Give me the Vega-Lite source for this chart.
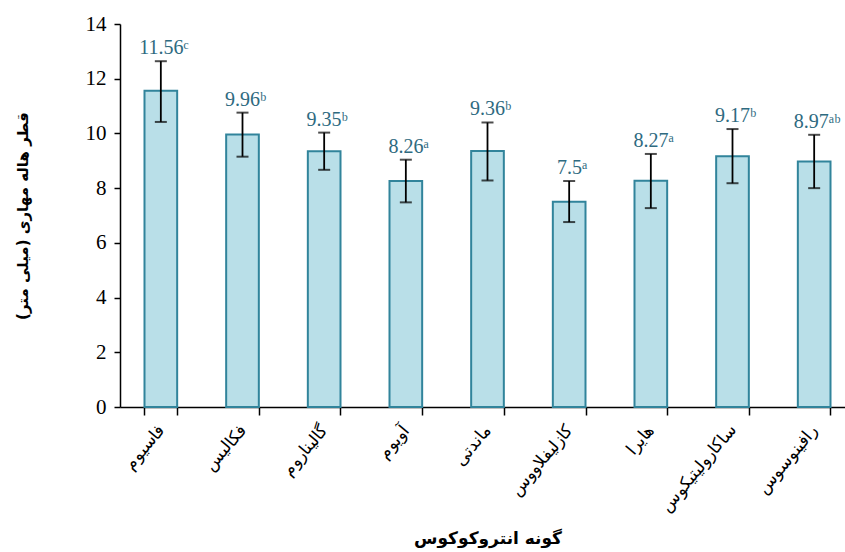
{
  "$schema": "https://vega.github.io/schema/vega-lite/v6.json",
  "autosize": "none",
  "padding": {"left": 120, "top": 24, "right": 0, "bottom": 145},
  "width": 725,
  "height": 383,
  "background": "white",
  "config": {"view": {"stroke": null}, "font": "Liberation Serif"},
  "data": {"values": [
    {"species": "فاسیوم", "value": 11.56, "lo": 10.42, "hi": 12.64, "label": "11.56ᶜ"},
    {"species": "فکالیس", "value": 9.96, "lo": 9.15, "hi": 10.76, "label": "9.96ᵇ"},
    {"species": "گالیناروم", "value": 9.35, "lo": 8.67, "hi": 10.03, "label": "9.35ᵇ"},
    {"species": "آویوم", "value": 8.26, "lo": 7.48, "hi": 9.04, "label": "8.26ᵃ"},
    {"species": "ماندتی", "value": 9.36, "lo": 8.28, "hi": 10.4, "label": "9.36ᵇ"},
    {"species": "کازلیفلاووس", "value": 7.5, "lo": 6.76, "hi": 8.26, "label": "7.5ᵃ"},
    {"species": "هایرا", "value": 8.27, "lo": 7.27, "hi": 9.25, "label": "8.27ᵃ"},
    {"species": "ساکارولیتیکوس", "value": 9.17, "lo": 8.18, "hi": 10.16, "label": "9.17ᵇ"},
    {"species": "رافینوسوس", "value": 8.97, "lo": 8.0, "hi": 9.95, "label": "8.97ᵃᵇ"}
  ]},
  "encoding": {
    "x": {
      "field": "species", "type": "nominal", "sort": null,
      "scale": {"range": [0, 735], "paddingInner": 0.6, "paddingOuter": 0.3},
      "axis": {
        "title": "گونه انتروکوکوس",
        "titleFont": "DejaVu Sans", "titleFontSize": 17, "titleFontWeight": "bold", "titleColor": "black",
        "titlePadding": 16,
        "labelFont": "DejaVu Serif", "labelFontSize": 17, "labelColor": "black",
        "labelAngle": -50, "labelAlign": "right", "labelBaseline": "middle", "labelPadding": 12,
        "tickBand": "extent", "tickSize": 8, "tickColor": "black", "tickWidth": 1.5,
        "domainColor": "black", "domainWidth": 1.5
      }
    }
  },
  "layer": [
    {
      "mark": {"type": "bar", "fill": "#B9DFE8", "stroke": "#31849B", "strokeWidth": 2},
      "encoding": {
        "y": {
          "field": "value", "type": "quantitative",
          "scale": {"domain": [0, 14]},
          "axis": {
            "values": [0, 2, 4, 6, 8, 10, 12, 14],
            "title": "قطر هاله مهاری (میلی متر)",
            "titleFont": "DejaVu Sans", "titleFontSize": 15, "titleFontWeight": "bold", "titleColor": "black",
            "titlePadding": 55,
            "labelFont": "Liberation Serif", "labelFontSize": 21, "labelColor": "black", "labelPadding": 8,
            "grid": false, "tickSize": 6, "tickColor": "black", "tickWidth": 1.5,
            "domainColor": "black", "domainWidth": 1.5
          }
        }
      }
    },
    {
      "mark": {"type": "rule", "color": "black", "strokeWidth": 1.8},
      "encoding": {"y": {"field": "lo", "type": "quantitative"}, "y2": {"field": "hi"}}
    },
    {
      "mark": {"type": "tick", "color": "black", "size": 12, "thickness": 2},
      "encoding": {"y": {"field": "lo", "type": "quantitative"}}
    },
    {
      "mark": {"type": "tick", "color": "black", "size": 12, "thickness": 2},
      "encoding": {"y": {"field": "hi", "type": "quantitative"}}
    },
    {
      "mark": {"type": "text", "font": "Liberation Serif", "fontSize": 20, "color": "#2E6A80", "baseline": "alphabetic", "dy": -7, "dx": 3},
      "encoding": {"y": {"field": "hi", "type": "quantitative"}, "text": {"field": "label"}}
    }
  ]
}
